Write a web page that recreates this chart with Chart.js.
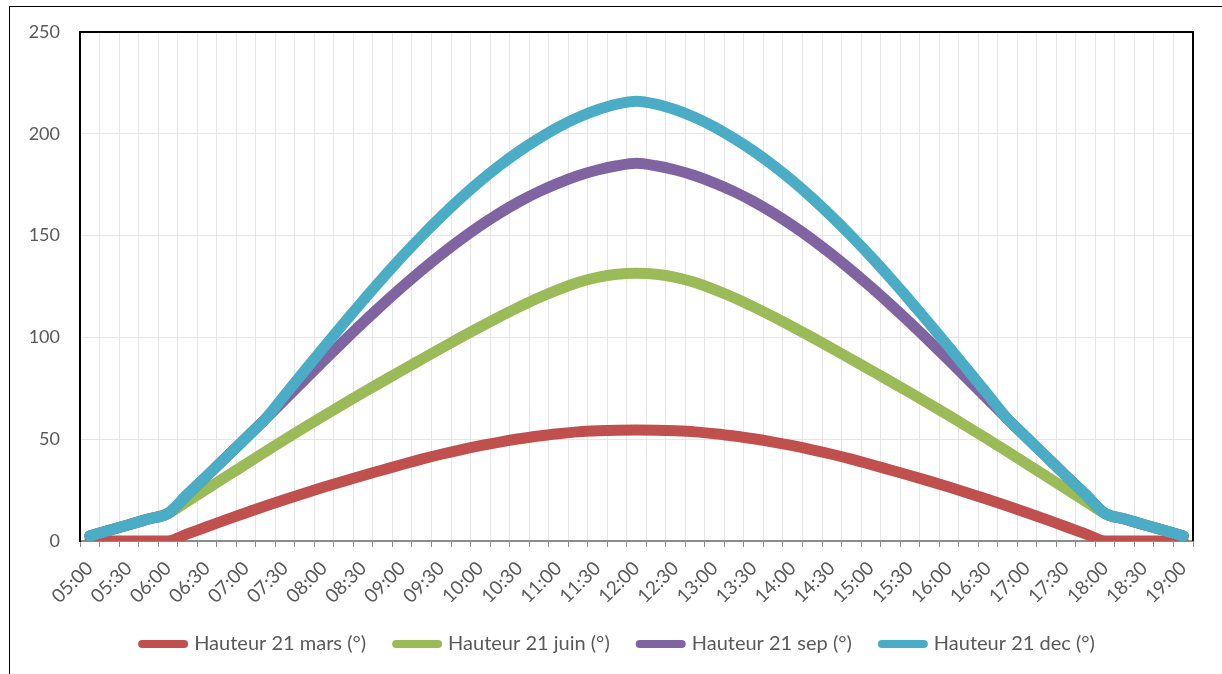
<!DOCTYPE html>
<html>
<head>
<meta charset="utf-8">
<script src="https://cdn.jsdelivr.net/npm/chart.js@4"></script>
<style>
  body { margin: 0; background: #fff; }
  #frame { position: absolute; left: 9px; top: 6px; width: 1300px; height: 700px;
           border-left: 1.5px solid #000; border-top: 1.5px solid #000; }
  #chart { position: absolute; left: 0; top: 0; }
</style>
</head>
<body>
<div id="frame"></div>
<canvas id="chart" width="1222" height="674"></canvas>
<script>
// Heures (pas de 15 min), une étiquette sur deux affichée
const heures = [
    '05:00', '05:15', '05:30', '05:45', '06:00', '06:15', '06:30', '06:45',
    '07:00', '07:15', '07:30', '07:45', '08:00', '08:15', '08:30', '08:45',
    '09:00', '09:15', '09:30', '09:45', '10:00', '10:15', '10:30', '10:45',
    '11:00', '11:15', '11:30', '11:45', '12:00', '12:15', '12:30', '12:45',
    '13:00', '13:15', '13:30', '13:45', '14:00', '14:15', '14:30', '14:45',
    '15:00', '15:15', '15:30', '15:45', '16:00', '16:15', '16:30', '16:45',
    '17:00', '17:15', '17:30', '17:45', '18:00', '18:15', '18:30', '18:45',
    '19:00'
];

const hauteurMars = [
    0, 0, 0, 0, 0, 3.5, 7, 10.5, 13.9, 17.2, 20.4, 23.5, 26.5, 29.4, 32.2, 34.9, 37.6,
    40.2, 42.6, 44.8, 46.8, 48.6, 50.2, 51.6, 52.7, 53.6, 54.1, 54.4, 54.5,
    54.4, 54.1, 53.6, 52.7, 51.6, 50.2, 48.6, 46.8, 44.8, 42.6, 40.2, 37.6, 34.9, 32.2, 29.4,
    26.5, 23.5, 20.4, 17.2, 13.9, 10.5, 7, 3.5, 0, 0, 0, 0, 0
];

const hauteurJuin = [
    2.5, 5.3, 8, 10.8, 13.5, 19.5, 25.6, 31.7, 37.8, 43.9, 49.9, 55.8, 61.6, 67.3, 72.9,
    78.4, 83.9, 89.3, 94.7, 100, 105.2, 110.2, 115, 119.5, 123.5, 127, 129.5, 131, 131.5,
    131, 129.5, 127, 123.5, 119.5, 115, 110.2, 105.2, 100, 94.7, 89.3, 83.9, 78.4, 72.9, 67.3,
    61.6, 55.8, 49.9, 43.9, 37.8, 31.7, 25.6, 19.5, 13.5, 10.8, 8, 5.3, 2.5
];

const hauteurSep = [
    2.5, 5.3, 8, 10.8, 13.5, 22.8, 32, 41.3, 50.6, 60, 69.6, 79.2, 88.7, 98.1, 107.3,
    116.2, 124.8, 133, 140.8, 148.1, 154.9, 161.1, 166.7, 171.6, 175.8, 179.4, 182.2, 184.3, 185.5,
    184.3, 182.2, 179.4, 175.8, 171.6, 166.7, 161.1, 154.9, 148.1, 140.8, 133, 124.8, 116.2, 107.3, 98.1,
    88.7, 79.2, 69.6, 60, 50.6, 41.3, 32, 22.8, 13.5, 10.8, 8, 5.3, 2.5
];

const hauteurDec = [
    2.5, 5.3, 8, 10.8, 13.5, 22.8, 32, 41.3, 50.6, 60, 71.8, 83.6, 95.3, 106.8, 118.1,
    129.1, 139.7, 149.8, 159.4, 168.4, 176.8, 184.5, 191.5, 197.7, 203.3, 208, 211.8, 214.6, 216,
    214.6, 211.8, 208, 203.3, 197.7, 191.5, 184.5, 176.8, 168.4, 159.4, 149.8, 139.7, 129.1, 118.1, 106.8,
    95.3, 83.6, 71.8, 60, 50.6, 41.3, 32, 22.8, 13.5, 10.8, 8, 5.3, 2.5
];

const series = [
    { label: 'Hauteur 21 mars (°)', data: hauteurMars, color: '#C0504D', order: 4 },
    { label: 'Hauteur 21 juin (°)', data: hauteurJuin, color: '#9BBB59', order: 3 },
    { label: 'Hauteur 21 sep (°)', data: hauteurSep, color: '#8064A2', order: 2 },
    { label: 'Hauteur 21 dec (°)', data: hauteurDec, color: '#4BACC6', order: 1 }
];

const police = 'Lato, "Liberation Sans", sans-serif';
const gris = '#595959';

// Cadre noir haut et droite de la zone de tracé + légende un peu décalée à droite
const cadrePlugin = {
    id: 'cadre',
    afterLayout(chart) {
        chart.legend.left += 22;
        chart.legend.right += 22;
    },
    afterDraw(chart) {
        const a = chart.chartArea;
        const ctx = chart.ctx;
        ctx.save();
        ctx.strokeStyle = '#000';
        ctx.lineWidth = 2;
        ctx.beginPath();
        ctx.moveTo(a.left, a.top);
        ctx.lineTo(a.right, a.top);
        ctx.lineTo(a.right, a.bottom);
        ctx.stroke();
        ctx.restore();
    }
};

new Chart(document.getElementById('chart'), {
    type: 'line',
    data: {
        labels: heures,
        datasets: series.map(s => ({
            label: s.label,
            data: s.data,
            borderColor: s.color,
            backgroundColor: s.color,
            borderWidth: 11,
            borderCapStyle: 'round',
            borderJoinStyle: 'round',
            pointRadius: 0,
            pointHoverRadius: 0,
            cubicInterpolationMode: 'monotone',
            order: s.order
        }))
    },
    options: {
        responsive: false,
        animation: false,
        layout: { padding: { left: 0, right: 29, top: 32, bottom: 10 } },
        plugins: {
            tooltip: { enabled: false },
            legend: {
                position: 'bottom',
                labels: {
                    usePointStyle: true,
                    pointStyle: 'line',
                    pointStyleWidth: 42,
                    padding: 30,
                    color: gris,
                    font: { family: police, size: 20 },
                    generateLabels: chart =>
                        Chart.defaults.plugins.legend.labels.generateLabels(chart)
                            .map(l => Object.assign(l, { lineWidth: 8, lineCap: 'round' })),
                    sort: (a, b) => a.datasetIndex - b.datasetIndex
                }
            }
        },
        scales: {
            x: {
                offset: true,
                afterFit: scale => { scale.height = 63; },
                grid: { offset: true, color: '#e6e6e6', tickColor: '#8c8c8c', tickLength: 6 },
                border: { color: '#8c8c8c', width: 2 },
                ticks: {
                    autoSkip: false,
                    maxRotation: 45,
                    minRotation: 45,
                    padding: 10,
                    color: gris,
                    font: { family: police, size: 19 },
                    callback: function (val, index) {
                        return index % 2 === 0 ? this.getLabelForValue(val) : '';
                    }
                }
            },
            y: {
                min: 0,
                max: 250,
                afterFit: scale => { scale.width = 80; },
                grid: { color: '#e6e6e6', drawTicks: false },
                border: { color: '#000', width: 2 },
                ticks: {
                    stepSize: 50,
                    padding: 20,
                    color: gris,
                    font: { family: police, size: 18 }
                }
            }
        }
    },
    plugins: [cadrePlugin]
});
</script>
</body>
</html>
